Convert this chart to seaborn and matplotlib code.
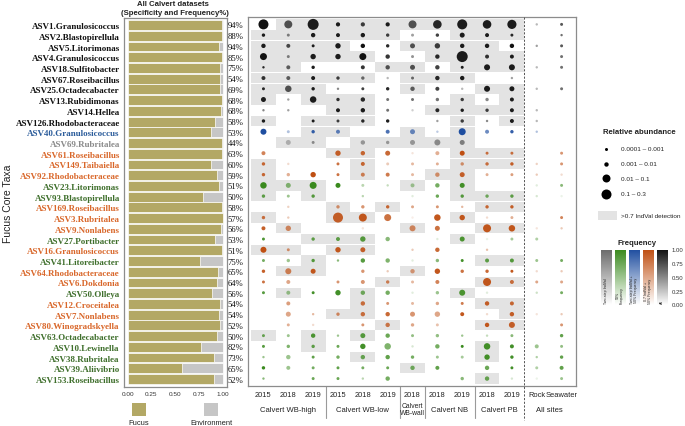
import numpy as np
import pandas as pd
import matplotlib
matplotlib.use("Agg")
import matplotlib.pyplot as plt
import matplotlib.transforms as mtransforms
from matplotlib.colors import LinearSegmentedColormap, to_rgb
from matplotlib.patches import Rectangle
import seaborn as sns

# ---------------- data ----------------
taxa = ["ASV1.Granulosicoccus", "ASV2.Blastopirellula", "ASV5.Litorimonas", "ASV4.Granulosicoccus",
        "ASV18.Sulfitobacter", "ASV67.Roseibacillus", "ASV25.Octadecabacter", "ASV13.Rubidimonas",
        "ASV14.Hellea", "ASV126.Rhodobacteraceae", "ASV40.Granulosicoccus", "ASV69.Rubritalea",
        "ASV61.Roseibacillus", "ASV149.Taibaiella", "ASV92.Rhodobacteraceae", "ASV23.Litorimonas",
        "ASV93.Blastopirellula", "ASV169.Roseibacillus", "ASV3.Rubritalea", "ASV9.Nonlabens",
        "ASV27.Portibacter", "ASV16.Granulosicoccus", "ASV41.Litoreibacter", "ASV64.Rhodobacteraceae",
        "ASV6.Dokdonia", "ASV50.Olleya", "ASV12.Croceitalea", "ASV7.Nonlabens",
        "ASV80.Winogradskyella", "ASV63.Octadecabacter", "ASV10.Lewinella", "ASV38.Rubritalea",
        "ASV39.Aliivibrio", "ASV153.Roseibacillus"]
pct = [94, 88, 94, 85, 75, 54, 69, 68, 68, 58, 53, 44, 63, 60, 59, 51, 50, 58, 57, 56, 53, 51,
       75, 65, 64, 56, 54, 54, 52, 50, 82, 73, 65, 52]
fucus_frac = [0.99, 0.99, 0.96, 0.99, 0.97, 0.975, 0.97, 0.99, 0.98, 0.92, 0.88, 0.99, 0.99, 0.88,
              0.94, 0.96, 0.79, 0.99, 1.0, 0.985, 0.92, 0.995, 0.76, 0.95, 0.94, 0.89, 0.975, 0.96,
              0.97, 0.94, 0.77, 0.91, 0.57, 0.91]
category = ["all"] * 10 + ["ts50", "ts", "iv50", "iv50", "iv50", "f50", "f50", "iv50", "iv50", "iv50",
                           "f50", "iv50", "f50", "iv50", "iv50", "f50", "iv50", "iv50", "iv50", "f50",
                           "f50", "f50", "f50", "f50"]
sites = ["2015", "2018", "2019", "2015", "2018", "2019", "2018", "2018", "2019", "2018", "2019",
         "Rock", "Seawater"]
site_groups = ["Calvert WB-high", "Calvert WB-low", "Calvert\nWB-wall", "Calvert NB", "Calvert PB", "All sites"]
group_span = [(0, 2), (3, 5), (6, 6), (7, 8), (9, 10), (11, 12)]

# relative abundance per taxon (rows) x site (columns); 0 = not detected
abund = [
    [0.25, 0.1, 0.3, 0.008, 0.008, 0.008, 0.1, 0.13, 0.25, 0.13, 0.17, 0.0006, 0.0015],
    [0.003, 0.0015, 0.01, 0.006, 0.01, 0.003, 0.0015, 0.003, 0.015, 0.006, 0.0015, 0, 0.0006],
    [0.01, 0.006, 0.0015, 0.02, 0.01, 0.003, 0.015, 0.02, 0.01, 0.01, 0.01, 0.0006, 0.0015],
    [0.055, 0.0015, 0.02, 0.02, 0.055, 0.01, 0.0015, 0.01, 0.3, 0.006, 0.006, 0, 0.0015],
    [0.0006, 0.006, 0.003, 0, 0.006, 0.01, 0.015, 0.01, 0.0015, 0.03, 0.03, 0.0006, 0.0015],
    [0.006, 0.006, 0.006, 0.003, 0.003, 0.0006, 0.0015, 0.01, 0.01, 0, 0.0006, 0, 0],
    [0.0015, 0.04, 0.003, 0.0006, 0.0015, 0.003, 0.01, 0.006, 0.0006, 0.03, 0.015, 0.0006, 0.0015],
    [0.015, 0.0006, 0.04, 0.003, 0.01, 0.0015, 0.0015, 0.003, 0.003, 0.003, 0.006, 0, 0],
    [0.0006, 0.0006, 0, 0.006, 0.01, 0.0015, 0.0006, 0.006, 0.003, 0.003, 0.006, 0.0006, 0],
    [0.003, 0, 0.0015, 0.0015, 0.003, 0.003, 0, 0.0006, 0.003, 0.0006, 0.006, 0.0006, 0],
    [0.03, 0.0015, 0.003, 0.006, 0, 0.006, 0.015, 0.0006, 0.055, 0.006, 0.003, 0.0006, 0],
    [0, 0.015, 0.0015, 0, 0.01, 0.003, 0.015, 0.03, 0.015, 0, 0, 0, 0],
    [0.006, 0, 0, 0.02, 0.01, 0.015, 0.0006, 0.006, 0.015, 0.0015, 0.0015, 0, 0.0015],
    [0.003, 0.0006, 0, 0.0015, 0.006, 0.0015, 0.0015, 0.0015, 0.003, 0.003, 0.003, 0.0006, 0.0015],
    [0.003, 0.003, 0.02, 0.0015, 0.006, 0.006, 0.0015, 0.01, 0.015, 0.0015, 0.0015, 0.0006, 0.0006],
    [0.04, 0.015, 0.055, 0.015, 0.0015, 0.0006, 0.006, 0.01, 0.015, 0, 0, 0.0006, 0.0015],
    [0.003, 0.0015, 0.003, 0, 0.0006, 0, 0.0006, 0.003, 0.003, 0.003, 0.003, 0.0006, 0.0006],
    [0, 0.0006, 0, 0.003, 0.003, 0.003, 0.0015, 0.0015, 0.0006, 0.003, 0.003, 0, 0],
    [0.003, 0.0006, 0, 0.25, 0.1, 0.055, 0.0006, 0.04, 0.02, 0.0006, 0.0015, 0, 0.0015],
    [0.006, 0.02, 0, 0, 0.0006, 0, 0.03, 0.015, 0, 0.1, 0.04, 0.0006, 0.0006],
    [0.0015, 0, 0.003, 0.006, 0.02, 0.01, 0, 0.0006, 0.015, 0.0006, 0.0015, 0.0015, 0],
    [0.03, 0.0015, 0, 0.02, 0.015, 0, 0.0006, 0.01, 0, 0.0006, 0, 0, 0],
    [0.0015, 0.003, 0.003, 0.0006, 0.01, 0.01, 0.0006, 0.003, 0.0015, 0.006, 0.006, 0.0015, 0.0015],
    [0.003, 0.03, 0.015, 0, 0.003, 0.0006, 0.01, 0.02, 0.003, 0.003, 0.0015, 0.0006, 0.0006],
    [0.0015, 0.006, 0, 0.0015, 0.006, 0.003, 0.0015, 0.006, 0, 0.1, 0.006, 0.0015, 0.0015],
    [0.0015, 0.006, 0.0015, 0.02, 0.01, 0.01, 0.0006, 0.003, 0.03, 0.0006, 0, 0.0006, 0.0015],
    [0, 0.006, 0, 0, 0.01, 0.0015, 0.0015, 0.003, 0.0015, 0.01, 0.006, 0, 0],
    [0, 0.015, 0.0006, 0.003, 0.01, 0.01, 0.015, 0.02, 0.006, 0.0006, 0.01, 0.0006, 0.0006],
    [0, 0.0015, 0.0006, 0, 0.0015, 0.01, 0.003, 0.0015, 0, 0.01, 0.03, 0, 0.0015],
    [0.0015, 0.0015, 0.01, 0.0006, 0.015, 0.01, 0.0015, 0.003, 0.0006, 0.0006, 0.0015, 0, 0.003],
    [0.0015, 0.003, 0.003, 0.0015, 0.02, 0.04, 0.0006, 0.01, 0.0015, 0.04, 0.006, 0.006, 0.0015],
    [0.0006, 0.01, 0.0015, 0.003, 0.01, 0.01, 0.003, 0.0015, 0.0015, 0.02, 0.003, 0.0006, 0.003],
    [0.003, 0.006, 0.0015, 0.0015, 0.0015, 0.0015, 0.01, 0.006, 0, 0.01, 0.0015, 0.0015, 0.006],
    [0.0006, 0, 0.0015, 0.0015, 0.0006, 0.01, 0, 0, 0.003, 0.01, 0.0006, 0.0006, 0.0015],
]
# frequency per taxon x site
freq = [
    [1, 0.7, 0.95, 0.95, 0.8, 0.95, 0.7, 0.9, 0.95, 0.95, 0.95, 0.3, 0.7],
    [0.95, 0.5, 0.95, 0.95, 0.95, 0.8, 0.4, 0.8, 0.95, 0.95, 0.9, 0, 0.6],
    [0.95, 0.75, 0.95, 0.95, 1.0, 0.9, 0.7, 0.8, 0.95, 0.95, 1.0, 0.4, 0.7],
    [1, 0.5, 0.95, 0.95, 1, 0.85, 0.45, 0.9, 0.95, 0.85, 0.95, 0, 0.6],
    [0.9, 0.65, 0.95, 0, 0.85, 0.7, 0.7, 0.8, 0.95, 0.95, 0.95, 0.3, 0.6],
    [0.85, 0.65, 0.95, 0.8, 0.6, 0.3, 0.6, 0.9, 0.95, 0, 0.4, 0, 0],
    [0.9, 0.7, 0.95, 0.5, 0.8, 0.9, 0.65, 0.8, 0.3, 0.95, 0.95, 0.3, 0.6],
    [0.95, 0.4, 0.95, 0.85, 0.9, 0.6, 0.6, 0.6, 0.8, 0.5, 0.95, 0, 0],
    [0.5, 0.4, 0, 0.95, 0.95, 0.6, 0.2, 0.9, 0.95, 0.8, 0.95, 0.3, 0],
    [0.95, 0, 0.95, 0.8, 0.9, 0.95, 0, 0.4, 0.8, 0.5, 0.95, 0.3, 0],
    [1, 0.35, 0.9, 0.7, 0, 0.8, 0.65, 0.3, 1, 0.65, 0.9, 0.35, 0],
    [0, 0.45, 0.75, 0, 0.65, 0.65, 0.65, 0.75, 0.85, 0, 0, 0, 0],
    [0.7, 0, 0, 0.9, 0.85, 0.85, 0.15, 0.45, 1, 0.8, 0.8, 0, 0.6],
    [0.85, 0.2, 0, 0.8, 0.85, 0.3, 0.4, 0.45, 0.6, 0.8, 0.9, 0.25, 0.6],
    [0.85, 0.45, 1, 0.8, 0.7, 0.75, 0.4, 0.6, 0.9, 0.45, 0.55, 0.3, 0.2],
    [1, 0.6, 1, 1, 0.35, 0.3, 0.45, 0.7, 0.95, 0, 0, 0.15, 0.6],
    [0.8, 0.5, 0.85, 0, 0.35, 0, 0.15, 0.75, 0.85, 0.7, 0.8, 0.2, 0.1],
    [0, 0.25, 0, 0.6, 0.6, 0.85, 0.5, 0.6, 0.4, 0.85, 0.9, 0, 0],
    [0.8, 0.3, 0, 0.9, 0.95, 0.8, 0.1, 0.95, 0.95, 0.2, 0.45, 0, 0.7],
    [0.9, 0.65, 0, 0, 0.15, 0, 0.65, 0.8, 0, 0.95, 0.95, 0.15, 0.3],
    [0.9, 0, 0.8, 0.8, 0.85, 0.6, 0, 0.15, 0.9, 0.1, 0.45, 0.4, 0],
    [1, 0.6, 0, 0.95, 0.9, 0, 0.3, 0.85, 0, 0.35, 0, 0, 0],
    [0.7, 0.5, 0.85, 0.6, 0.85, 0.65, 0.15, 0.6, 0.95, 0.8, 0.85, 0.5, 0.7],
    [0.9, 0.7, 0.95, 0, 0.6, 0.3, 0.55, 0.95, 0.8, 0.85, 0.95, 0.2, 0.3],
    [0.8, 0.5, 0, 0.6, 0.6, 0.7, 0.4, 0.7, 0, 0.95, 0.8, 0.5, 0.5],
    [0.85, 0.5, 0.95, 0.95, 0.7, 0.7, 0.15, 0.5, 0.9, 0.15, 0, 0.25, 0.7],
    [0, 0.55, 0, 0, 0.8, 0.6, 0.4, 0.5, 0.75, 0.9, 0.85, 0, 0],
    [0, 0.5, 0.4, 0.65, 0.8, 0.85, 0.6, 0.5, 0.95, 0.2, 0.9, 0.15, 0.3],
    [0, 0.45, 0.2, 0, 0.6, 0.75, 0.5, 0.35, 0, 0.95, 0.9, 0, 0.6],
    [0.75, 0.5, 0.9, 0.5, 0.85, 0.75, 0.55, 0.55, 0.5, 0.3, 0.6, 0, 0.8],
    [0.85, 0.65, 0.8, 0.75, 0.95, 0.65, 0.2, 0.7, 1, 0.95, 0.95, 0.5, 0.55],
    [0.5, 0.5, 0.8, 0.7, 0.75, 0.8, 0.7, 0.5, 0.45, 0.95, 0.95, 0.4, 0.8],
    [1, 0.5, 0.7, 0.8, 0.7, 0.75, 0.7, 0.8, 0, 0.75, 0.95, 0.4, 0.8],
    [0.6, 0, 0.75, 0.75, 0.35, 0.7, 0, 0, 0.6, 0.75, 0.2, 0.1, 0.5],
]
# >0.7 IndVal detection (Calvert site-year columns only)
indval = [
    [0, 1, 1, 1, 1, 1, 1, 1, 1, 1, 1],
    [1, 1, 1, 1, 1, 1, 0, 0, 1, 1, 1],
    [1, 1, 1, 1, 0, 0, 1, 1, 1, 1, 0],
    [1, 1, 1, 1, 1, 0, 0, 1, 1, 1, 1],
    [1, 1, 0, 0, 0, 1, 1, 0, 1, 1, 1],
    [1, 1, 1, 1, 1, 0, 1, 1, 1, 0, 0],
    [1, 1, 1, 0, 0, 0, 1, 0, 0, 1, 1],
    [1, 0, 1, 1, 1, 0, 0, 0, 1, 0, 1],
    [0, 0, 0, 1, 1, 0, 0, 1, 1, 1, 1],
    [1, 0, 1, 1, 1, 0, 0, 0, 1, 0, 1],
    [0, 0, 1, 1, 0, 0, 1, 0, 1, 0, 0],
    [0, 1, 1, 0, 1, 1, 1, 1, 1, 0, 0],
    [0, 0, 0, 1, 1, 0, 0, 0, 1, 1, 1],
    [1, 0, 0, 0, 1, 0, 0, 0, 1, 1, 1],
    [1, 0, 0, 0, 1, 0, 0, 1, 1, 0, 0],
    [1, 1, 1, 0, 0, 0, 1, 0, 1, 0, 0],
    [1, 0, 1, 0, 0, 0, 0, 0, 1, 1, 1],
    [0, 0, 0, 1, 0, 1, 0, 0, 0, 1, 1],
    [1, 0, 0, 1, 1, 0, 0, 0, 1, 0, 0],
    [0, 1, 0, 0, 0, 0, 1, 0, 0, 1, 1],
    [0, 0, 1, 1, 1, 0, 0, 0, 1, 0, 0],
    [1, 1, 0, 1, 1, 0, 0, 0, 0, 0, 0],
    [0, 0, 1, 0, 0, 0, 0, 0, 0, 1, 1],
    [0, 1, 1, 0, 0, 0, 1, 0, 0, 0, 0],
    [0, 0, 0, 0, 0, 1, 0, 0, 0, 1, 1],
    [0, 1, 0, 0, 1, 0, 0, 0, 1, 0, 0],
    [0, 0, 0, 0, 1, 0, 0, 0, 0, 1, 1],
    [0, 0, 0, 1, 1, 0, 0, 0, 0, 0, 1],
    [0, 0, 0, 0, 0, 1, 0, 0, 0, 1, 1],
    [1, 0, 1, 0, 1, 0, 0, 0, 0, 0, 0],
    [0, 0, 1, 0, 0, 0, 0, 0, 0, 1, 0],
    [0, 0, 0, 0, 1, 0, 0, 0, 0, 1, 0],
    [0, 0, 0, 0, 0, 0, 1, 0, 0, 0, 0],
    [0, 0, 0, 0, 0, 0, 0, 0, 0, 1, 0],
]
size_legend_labels = ["0.0001 \u2013 0.001", "0.001 \u2013 0.01", "0.01 \u2013 0.1", "0.1 \u2013 0.3"]
size_legend_values = [0.0006, 0.005, 0.06, 0.2]
freq_bar_labels = ["Two-step IndVal", "50%\nFrequency", "Two-step IndVal +\n50% Frequency",
                   "0.7 IndVal +\n50% Frequency", "All"]
freq_bar_cats = ["ts", "f50", "ts50", "iv50", "all"]

# ---------------- style ----------------
DOT = {"all": "#111111", "ts50": "#1f4ea0", "ts": "#6b6b6b", "iv50": "#bf4f12", "f50": "#3a8a1e"}
LAB = {"all": "#111111", "ts50": "#2b5c9b", "ts": "#8a8a8a", "iv50": "#d9672a", "f50": "#3f6f2c"}
FUCUS = "#b3a865"
ENV = "#c6c6c6"
GRAYCELL = "#e3e3e3"
SPINE = "#8c8c8c"
SERIF = ["Liberation Serif", "DejaVu Serif"]

sns.set_style("white")
plt.rcParams["font.family"] = ["Liberation Sans", "DejaVu Sans"]

W, H, DPI = 685, 427, 100
fig = plt.figure(figsize=(W / DPI, H / DPI), dpi=DPI)


def box(l, t, r, b):
    return [l / W, 1 - b / H, (r - l) / W, (b - t) / H]


def diam_px(a):
    knots_a = [0.0006, 0.003, 0.01, 0.02, 0.03, 0.055, 0.1, 0.25, 0.3]
    knots_d = [2.4, 3.4, 4.4, 5.4, 6.0, 7.0, 8.0, 10.0, 11.0]
    return np.interp(np.log10(a), np.log10(knots_a), knots_d)


YLIM = (33.72, -0.66)
n = len(taxa)

# ---------------- left bar panel ----------------
axb = fig.add_axes(box(124, 19, 226.7, 387.7))
bar_df = pd.DataFrame({"taxon": taxa, "fucus": fucus_frac, "total": np.ones(n)})
sns.barplot(data=bar_df, x="total", y="taxon", order=taxa, orient="h", color=ENV, saturation=1,
            width=0.92, edgecolor="white", linewidth=0.5, ax=axb)
sns.barplot(data=bar_df, x="fucus", y="taxon", order=taxa, orient="h", color=FUCUS, saturation=1,
            width=0.92, edgecolor="white", linewidth=0.5, ax=axb)
axb.set_xlim(-0.039, 1.042)
axb.set_ylim(*YLIM)
axb.set_xlabel("")
axb.set_ylabel("")
axb.set_xticks([0, 0.25, 0.5, 0.75, 1.0])
axb.set_xticklabels(["0.00", "0.25", "0.50", "0.75", "1.00"], fontsize=4.6, color="#333333")
axb.set_yticks(range(n))
axb.set_yticklabels(taxa)
for lab, cat in zip(axb.get_yticklabels(), category):
    lab.set_color(LAB[cat])
    lab.set_family(SERIF)
    lab.set_fontweight("bold")
    lab.set_fontsize(6.5)
axb.tick_params(axis="both", length=2, width=0.5, color="#555555", pad=1)
for sp in axb.spines.values():
    sp.set_color(SPINE)
    sp.set_linewidth(0.9)

# ---------------- bubble panel ----------------
axd = fig.add_axes(box(248.3, 18.3, 576, 387.3))
recs = []
for r in range(n):
    for c in range(len(sites)):
        if abund[r][c] > 0:
            recs.append({"row": r, "col": c, "abund": abund[r][c], "freq": freq[r][c],
                         "cat": category[r]})
df = pd.DataFrame(recs)
df["area"] = (diam_px(df["abund"].values) * 72.0 / DPI) ** 2
amin, amax = df["area"].min(), df["area"].max()

for r in range(n):
    for c in range(len(indval[r])):
        if indval[r][c]:
            axd.add_patch(Rectangle((c - 0.5, r - 0.48), 1, 0.96, facecolor=GRAYCELL,
                                    edgecolor="none", zorder=0))

for cat, base in DOT.items():
    sub = df[df["cat"] == cat]
    if sub.empty:
        continue
    rgb = to_rgb(base)
    cmap = LinearSegmentedColormap.from_list(cat, [(*rgb, 0.0), (*rgb, 1.0)])
    sns.scatterplot(data=sub, x="col", y="row", hue="freq", palette=cmap, hue_norm=(0, 1),
                    size="area", sizes=(amin, amax), size_norm=(amin, amax),
                    linewidth=0, edgecolor="none", legend=False, ax=axd, zorder=3)

axd.set_xlim(-0.61, 12.58)
axd.set_ylim(*YLIM)
axd.set_xlabel("")
axd.set_ylabel("")
axd.set_yticks(range(n))
axd.set_yticklabels([f"{p}%" for p in pct], family=SERIF, fontsize=6.2, color="#111111")
axd.set_xticks(range(len(sites)))
axd.set_xticklabels(sites, fontsize=5.4, color="#222222")
axd.tick_params(axis="both", length=2, width=0.5, color="#555555", pad=1.5)
for sp in axd.spines.values():
    sp.set_color(SPINE)
    sp.set_linewidth(0.9)

trans = mtransforms.blended_transform_factory(axd.transData, axd.transAxes)
axd.plot([10.5, 10.5], [1.0, -0.09], transform=trans, color="#555555", lw=0.7,
         ls=(0, (2.2, 1.6)), clip_on=False, zorder=4)
for (a0, a1), (b0, b1) in zip(group_span[:-2], group_span[1:-1]):
    axd.plot([a1 + 0.5, a1 + 0.5], [0, -0.085], transform=trans, color="#9a9a9a", lw=0.8,
             clip_on=False)
for name, (a0, a1) in zip(site_groups, group_span):
    fs = 4.9 if "\n" in name else 5.5
    axd.text((a0 + a1) / 2, -0.062, name, transform=trans, ha="center", va="center",
             fontsize=fs, linespacing=0.95, color="#222222")

# ---------------- texts & legends ----------------
fig.text(172.5 / W, 1 - 5 / H, "All Calvert datasets", ha="center", va="center",
         fontsize=5.6, fontweight="bold", color="#222222")
fig.text(175 / W, 1 - 13.5 / H, "(Specificity and Frequency%)", ha="center", va="center",
         fontsize=5.6, fontweight="bold", color="#222222")
fig.text(8 / W, 1 - 204 / H, "Fucus Core Taxa", rotation=90, ha="center", va="center",
         fontsize=7.5, color="#222222")

lax = fig.add_axes([0, 0, 1, 1])
lax.set_xlim(0, W)
lax.set_ylim(H, 0)
lax.axis("off")
lax.patch.set_alpha(0)

# bar legend
for x0, lab, col in [(132, "Fucus", FUCUS), (204, "Environment", ENV)]:
    lax.add_patch(Rectangle((x0, 404), 14, 13, facecolor=col, edgecolor="none"))
    lax.text(x0 + 7, 424, lab, ha="center", va="center", fontsize=5.4, color="#222222")

# size legend
lax.text(603, 133, "Relative abundance", ha="left", va="center", fontsize=5.6,
         fontweight="bold", color="#222222")
leg_y = [150, 164.7, 179.3, 194.7]
leg_d = [3.0, 4.4, 8.0, 10.0]
for yy, dd, lab in zip(leg_y, leg_d, size_legend_labels):
    lax.scatter([606], [yy], s=(dd * 72.0 / DPI) ** 2, color="black", linewidths=0)
    lax.text(620.7, yy, lab, ha="left", va="center", fontsize=4.6, color="#222222")
lax.add_patch(Rectangle((598, 211.7), 18.7, 9, facecolor=GRAYCELL, edgecolor="none"))
lax.text(620.7, 216.3, ">0.7 IndVal detection", ha="left", va="center", fontsize=4.6,
         color="#222222")

# frequency colour bars
lax.text(637.3, 243.3, "Frequency", ha="center", va="center", fontsize=5.6,
         fontweight="bold", color="#222222")
bar_x = [600.7, 614.7, 628.7, 642.7, 656.7]
grad = np.linspace(1, 0, 100).reshape(-1, 1)
for bx, cat, lab in zip(bar_x, freq_bar_cats, freq_bar_labels):
    rgb = to_rgb(DOT[cat])
    cm = LinearSegmentedColormap.from_list("f" + cat, ["#ffffff", rgb])
    cax = fig.add_axes(box(bx, 250.7, bx + 11, 306))
    cax.imshow(grad, aspect="auto", cmap=cm, vmin=0, vmax=1, extent=(0, 1, 0, 1))
    cax.set_xticks([])
    cax.set_yticks([])
    for sp in cax.spines.values():
        sp.set_visible(False)
    cax.text(0.5, 0.03, lab, rotation=90, ha="center", va="bottom", fontsize=2.6,
             color="#222222", linespacing=0.9, transform=cax.transAxes)
for v, lab in zip([1.0, 0.75, 0.5, 0.25, 0.0], ["1.00", "0.75", "0.50", "0.25", "0.00"]):
    lax.text(671.5, 306 - v * (306 - 250.7), lab, ha="left", va="center", fontsize=4.3,
             color="#333333")

fig.savefig("out.png", dpi=DPI)
